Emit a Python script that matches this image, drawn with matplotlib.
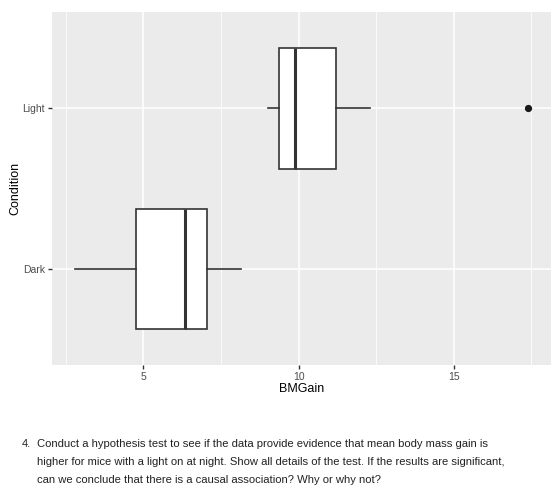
import matplotlib
matplotlib.use("Agg")
import matplotlib.pyplot as plt

plt.rcParams['font.family'] = ['Liberation Sans', 'DejaVu Sans']

conditions = ["Dark", "Light"]
whisker_low = [2.79, 9.03]
q1 = [4.75, 9.38]
median = [6.33, 9.88]
q3 = [7.04, 11.20]
whisker_high = [8.16, 12.31]
outliers = [[], [17.39]]

x_ticks = [5, 10, 15]
x_minor = [2.5, 7.5, 12.5, 17.5]

question_number = "4."
question_lines = [
    "Conduct a hypothesis test to see if the data provide evidence that mean body mass gain is",
    "higher for mice with a light on at night. Show all details of the test. If the results are significant,",
    "can we conclude that there is a causal association? Why or why not?",
]

fig = plt.figure(figsize=(5.6, 4.94), dpi=100)
ax = fig.add_axes([52/560, 1-365/494, (550.7-52)/560, (365-12.3)/494])
ax.set_facecolor('#EBEBEB')
for s in ax.spines.values():
    s.set_visible(False)

stats = []
for i, c in enumerate(conditions):
    stats.append(dict(label=c, whislo=whisker_low[i], q1=q1[i], med=median[i],
                      q3=q3[i], whishi=whisker_high[i], fliers=outliers[i]))

positions = list(range(1, len(conditions)+1))
ax.bxp(stats, positions=positions, vert=False, widths=0.75, patch_artist=True,
       showcaps=False,
       boxprops=dict(facecolor='white', edgecolor='#333333', linewidth=1.2),
       medianprops=dict(color='#333333', linewidth=2.2),
       whiskerprops=dict(color='#333333', linewidth=1.2),
       flierprops=dict(marker='o', markerfacecolor='#1a1a1a', markeredgecolor='#1a1a1a',
                       markersize=4.2),
       zorder=3)

ax.set_xlim(2.06, 18.12)
ax.set_ylim(0.4, 2.6)
ax.set_xticks(x_ticks)
ax.set_xticklabels([str(t) for t in x_ticks])
ax.set_xticks(x_minor, minor=True)
ax.set_yticks(positions)
ax.set_yticklabels(conditions)
ax.grid(True, which='major', color='white', linewidth=1.1, zorder=0)
ax.grid(True, which='minor', axis='x', color='white', linewidth=0.55, zorder=0)
ax.set_axisbelow(True)
ax.tick_params(which='major', length=3, width=1, color='#333333', labelcolor='#4D4D4D',
               labelsize=7.5, pad=2)
ax.tick_params(which='minor', length=0)

ax.set_xlabel('BMGain', fontsize=9, color='black', labelpad=1)
ax.set_ylabel('Condition', fontsize=9, color='black')
ax.yaxis.set_label_coords((21-52)/498.7, 0.5)

line_y = [444, 462, 480]
fig.text(22/560, 1-line_y[0]/494, question_number, fontsize=8.1, color='#222222',
         va='center', ha='left')
for txt, yy in zip(question_lines, line_y):
    fig.text(36.7/560, 1-yy/494, txt, fontsize=8.1, color='#222222', va='center', ha='left')

fig.savefig('out.png', dpi=100)
